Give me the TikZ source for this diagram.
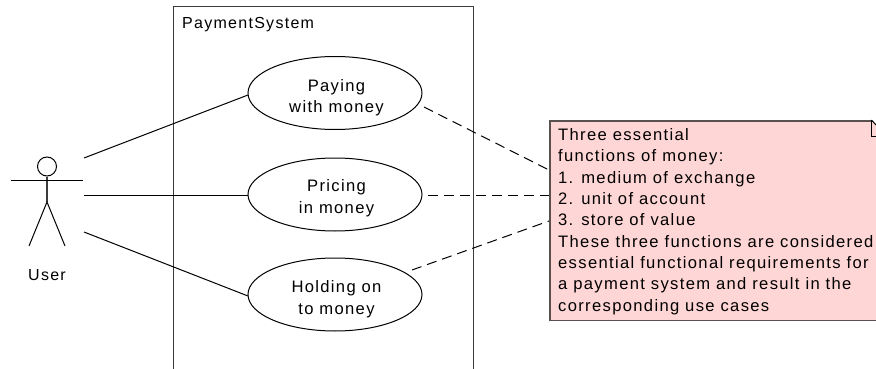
\documentclass[tikz,border=0pt]{standalone}
\usepackage{fontspec}
\setmainfont[LetterSpace=8]{Liberation Sans}
\usetikzlibrary{shapes.geometric}
\definecolor{notefill}{RGB}{255,214,214}
\definecolor{noteline}{RGB}{90,80,80}
\definecolor{boxline}{RGB}{60,60,60}
\tikzset{
  usecase/.style={draw=black,fill=white,ellipse,line width=1pt,minimum width=174pt,minimum height=73pt,inner sep=0pt},
  uctext/.style={inner sep=0pt,anchor=base,align=center,font=\fontsize{16.6pt}{21.3pt}\selectfont},
  plain/.style={line width=1pt,draw=black},
  dep/.style={line width=1pt,draw=black,dash pattern=on 10pt off 6pt},
  lbl/.style={inner sep=0pt,font=\fontsize{16pt}{18pt}\selectfont},
}
\begin{document}
\begin{tikzpicture}[x=1pt,y=-1pt]
\useasboundingbox (0,0) rectangle (876,369);
\draw[line width=1pt,draw=boxline] (173,369) -- (173,7) -- (473,7) -- (473,369);
\node[lbl,anchor=base west] (sys) at (182,28.5) {PaymentSystem};
% actor
\node[draw=black,circle,line width=1pt,minimum size=19pt,inner sep=0pt] (head) at (47,166.5) {};
\coordinate (hip) at (47,202);
\coordinate (armL) at (11,180);
\coordinate (armR) at (83,180);
\coordinate (footL) at (29,246);
\coordinate (footR) at (65,246);
\draw[line width=1.3pt,draw=boxline] (head.south) -- (hip);
\draw[plain] (armL) -- (armR);
\draw[plain] (footL) -- (hip) -- (footR);
\node[lbl,anchor=base] (user) at (47,280) {User};
\coordinate (a1) at (84,158);
\coordinate (a2) at (84,195);
\coordinate (a3) at (84,232);
% use cases
\node[usecase] (uc1) at (335,93) {};
\node[usecase] (uc2) at (335,194.5) {};
\node[usecase] (uc3) at (335,294.5) {};
\node[uctext] (t1) at (336.5,113) {Paying\\with money};
\node[uctext] (t2) at (336.5,213) {Pricing\\in money};
\node[uctext] (t3) at (336.5,314) {Holding on\\to money};
\coordinate (e1) at (248,95);
\coordinate (e2) at (248,195);
\coordinate (e3) at (248,296);
\draw[plain] (a1) -- (e1);
\draw[plain] (a2) -- (e2);
\draw[plain] (a3) -- (e3);
% note
\node[draw=noteline,fill=notefill,line width=1.5pt,anchor=north west,minimum width=340pt,minimum height=199.5pt,inner sep=0pt] (note) at (549,120) {};
\coordinate (fa) at (871.5,120);
\coordinate (fb) at (871.5,136.5);
\coordinate (fc) at (876,136.5);
\coordinate (fd) at (876,125);
\fill[white] (fa) -- (876,119) -- (fd) -- cycle;
\draw[line width=1pt] (fa) -- (fb) -- (fc);
\draw[line width=1pt] (fa) -- (fd);
\node[inner sep=0pt,anchor=base west,align=left,font=\fontsize{16.6pt}{21.3pt}\selectfont] (txt) at (558,311) {Three essential\\functions of money:\\1. medium of exchange\\2. unit of account\\3. store of value\\These three functions are considered\\essential functional requirements for\\a payment system and result in the\\corresponding use cases};
\coordinate (n1) at (549,170);
\coordinate (n2) at (549,195);
\coordinate (n3) at (549,221);
\coordinate (s1) at (424,107);
\coordinate (s2) at (428,195);
\coordinate (s3) at (412,270);
\draw[dep] (s1) -- (n1);
\draw[dep] (s2) -- (n2);
\draw[dep] (s3) -- (n3);
\end{tikzpicture}
\end{document}
